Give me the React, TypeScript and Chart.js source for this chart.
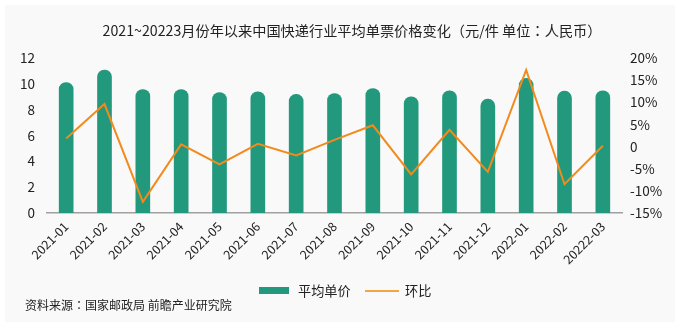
import React, { useEffect, useRef } from "react";
import { Chart, registerables } from "chart.js";

Chart.register(...registerables);

const categories = [
  "2021-01", "2021-02", "2021-03", "2021-04", "2021-05", "2021-06", "2021-07", "2021-08",
  "2021-09", "2021-10", "2021-11", "2021-12", "2022-01", "2022-02", "20222-03",
];
const avgPrice = [10.1, 11.07, 9.56, 9.56, 9.33, 9.38, 9.18, 9.25, 9.64, 8.99, 9.46, 8.81, 10.42, 9.43, 9.46];
const momChange = [1.8, 9.6, -12.5, 0.5, -4.0, 0.6, -2.0, 1.5, 4.8, -6.3, 3.8, -5.7, 17.3, -8.5, 0.2];

const titleParts = ["2021~20223月份年以来中国快递行业平均单票价格变化（元/件 单位", "人民币）"];
const sourceParts = ["资料来源", "国家邮政局 前瞻产业研究院"];
const barLabel = "平均单价";
const lineLabel = "环比";

const BAR_COLOR = "#22997d";
const LINE_COLOR = "#f28a1c";
const FONT = "'Noto Sans CJK SC', 'Noto Sans', sans-serif";
const COLON_FONT = "'Noto Sans CJK JP', 'Noto Sans CJK SC', sans-serif";

export default function App() {
  const ref = useRef<HTMLCanvasElement | null>(null);

  useEffect(() => {
    const ctx = ref.current!;
    const chart = new Chart(ctx, {
      data: {
        labels: categories,
        datasets: [
          {
            type: "line",
            label: lineLabel,
            data: momChange,
            yAxisID: "y1",
            borderColor: LINE_COLOR,
            backgroundColor: LINE_COLOR,
            borderWidth: 2,
            pointRadius: 0,
            tension: 0,
            order: 0,
          },
          {
            type: "bar",
            label: barLabel,
            data: avgPrice,
            yAxisID: "y",
            backgroundColor: BAR_COLOR,
            barThickness: 14,
            borderRadius: { topLeft: 7, topRight: 7, bottomLeft: 0, bottomRight: 0 },
            borderSkipped: false,
            order: 1,
          },
        ],
      } as any,
      options: {
        animation: false,
        responsive: false,
        maintainAspectRatio: false,
        layout: { padding: { top: 58, bottom: 50, left: 0, right: 0 } },
        plugins: { legend: { display: false }, title: { display: false }, tooltip: { enabled: false } },
        scales: {
          x: {
            grid: { display: false, drawTicks: false },
            border: { display: true, color: "#a0a0a0", width: 1.5 },
            ticks: {
              minRotation: 45,
              maxRotation: 45,
              padding: 6,
              color: "#222",
              font: { family: FONT, size: 12.5 },
              autoSkip: false,
            },
            afterFit: (s: any) => { s.height = 64; },
          },
          y: {
            position: "left",
            min: 0,
            max: 12,
            grid: { display: false, drawTicks: false },
            border: { display: false },
            ticks: { stepSize: 2, padding: 12, color: "#222", font: { family: FONT, size: 13.5 } },
            afterFit: (s: any) => { s.width = 47; },
          },
          y1: {
            position: "right",
            min: -15,
            max: 20,
            grid: { display: false, drawTicks: false },
            border: { display: false },
            ticks: {
              stepSize: 5,
              padding: 8,
              color: "#222",
              font: { family: FONT, size: 13.5 },
              callback: (v: any) => (v === 0 ? "0" : v + "%"),
            },
            afterFit: (s: any) => { s.width = 58; },
          },
        },
      } as any,
    });
    return () => chart.destroy();
  }, []);

  return (
    <div style={{ position: "relative", width: 680, height: 327, background: "#fff", fontFamily: FONT, overflow: "hidden" }}>
      <style>{`body{margin:0}`}</style>
      <div style={{ position: "absolute", left: 5, top: 5, width: 670, height: 317, background: "#f9f9f9" }} />
      <canvas ref={ref} width={680} height={327} style={{ position: "absolute", left: 0, top: 0 }} />
      <div style={{ position: "absolute", left: 0, width: 704, top: 20, textAlign: "center", fontSize: 14.2, color: "#222", lineHeight: "20px", whiteSpace: "nowrap" }}>
        {titleParts[0]}<span style={{ fontFamily: COLON_FONT }}>：</span>{titleParts[1]}
      </div>
      <div style={{ position: "absolute", left: 259, top: 287, width: 30, height: 7, background: BAR_COLOR }} />
      <div style={{ position: "absolute", left: 298, top: 281, fontSize: 13.2, color: "#222", lineHeight: "20px" }}>{barLabel}</div>
      <div style={{ position: "absolute", left: 365, top: 290, width: 34, height: 2, background: "#f6a640" }} />
      <div style={{ position: "absolute", left: 405, top: 281, fontSize: 13.2, color: "#222", lineHeight: "20px" }}>{lineLabel}</div>
      <div style={{ position: "absolute", left: 25, top: 296, fontSize: 12, color: "#222", lineHeight: "18px", whiteSpace: "nowrap" }}>
        {sourceParts[0]}<span style={{ fontFamily: COLON_FONT }}>：</span>{sourceParts[1]}
      </div>
    </div>
  );
}
